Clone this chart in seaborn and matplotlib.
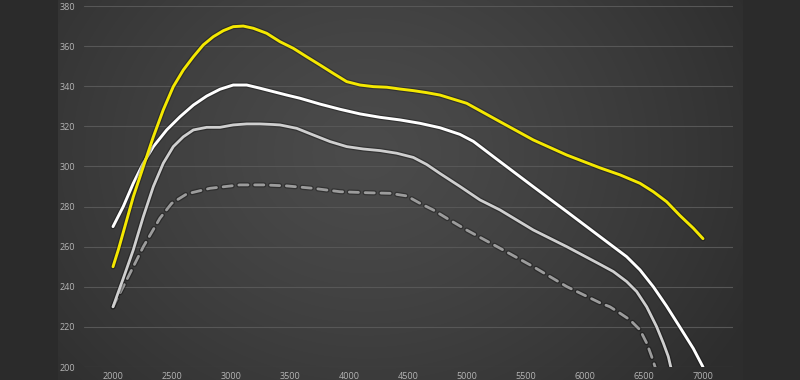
import numpy as np
import pandas as pd
import matplotlib
matplotlib.use("Agg")
import matplotlib.pyplot as plt
import matplotlib.patheffects as pe
import seaborn as sns

# ---- data (rpm, value) ----
rpm_yellow = [2000, 2045, 2172, 2257, 2342, 2426, 2511, 2596, 2681, 2765, 2850,
              2935, 3019, 3104, 3189, 3302, 3415, 3528, 3641, 3754, 3867, 3980,
              4093, 4206, 4320, 4432, 4545, 4658, 4771, 4997, 5280, 5562, 5845,
              6127, 6297, 6466, 6579, 6692, 6805, 6918, 7000]
yellow = [250, 258.4, 284.9, 299.9, 314.8, 328.2, 339.8, 348.1, 354.7, 360.6, 364.7,
          367.7, 369.7, 370, 368.9, 366.4, 362.2, 358.9, 354.7, 350.6, 346.4, 342.3,
          340.6, 339.8, 339.5, 338.6, 337.8, 336.8, 335.6, 331.5, 322.3, 313.2, 305.7,
          299.3, 295.8, 291.6, 287.4, 282.4, 275.5, 269.2, 264]

rpm_white = [2000, 2087, 2172, 2257, 2342, 2455, 2568, 2681, 2794, 2907, 3019,
             3133, 3246, 3359, 3472, 3585, 3754, 3924, 4093, 4263, 4432, 4602,
             4771, 4940, 5054, 5280, 5562, 5845, 6127, 6240, 6353, 6466, 6579,
             6692, 6805, 6918, 7000]
white = [270, 280, 291.6, 301.6, 309.9, 318.2, 324.8, 330.6, 335.1, 338.5, 340.6,
         340.6, 339, 337.3, 335.6, 334, 331.1, 328.5, 326.2, 324.5, 323.2, 321.5,
         319.3, 316, 312.5, 302.4, 289.9, 277.5, 265, 260, 255, 248.4, 240,
         230.3, 219.8, 209.2, 200]

rpm_gray = [2000, 2086, 2172, 2257, 2342, 2426, 2511, 2596, 2681, 2794, 2907,
            3019, 3133, 3246, 3359, 3415, 3557, 3697, 3839, 3980, 4121, 4263,
            4404, 4545, 4658, 4771, 4941, 5110, 5280, 5562, 5845, 6127, 6240,
            6353, 6438, 6523, 6607, 6664, 6706, 6726, 6750]
gray = [230, 244, 258.4, 275, 290, 301.6, 309.9, 314.8, 318.2, 319.5, 319.5,
        320.7, 321.2, 321.2, 320.9, 320.7, 319, 315.7, 312.4, 309.9, 308.7, 307.9,
        306.6, 304.5, 301, 296.5, 290, 283.3, 278.3, 268.3, 260, 251.2, 247.6,
        242.6, 237.6, 230, 220.1, 211.9, 205.2, 200.2, 196]

rpm_dash = [2000, 2087, 2172, 2257, 2398, 2497, 2625, 2822, 3076, 3274, 3472,
            3697, 3924, 4150, 4347, 4489, 4602, 4714, 4828, 4997, 5280, 5562,
            5845, 6127, 6212, 6297, 6381, 6466, 6523, 6565, 6593, 6620]
dashed = [230, 240.1, 250, 260, 274.2, 281.6, 286.3, 289.1, 290.8, 290.8, 290.3,
          289.1, 287.4, 286.9, 286.6, 285.3, 281.6, 278.3, 274.2, 268.3, 259.2, 250,
          240.1, 232, 230, 226.8, 223.5, 218.5, 211.9, 205.2, 200.2, 195]

x_ticks = [2000, 2500, 3000, 3500, 4000, 4500, 5000, 5500, 6000, 6500, 7000]
y_ticks = [200, 220, 240, 260, 280, 300, 320, 340, 360, 380]

sns.set_theme(style="dark")
plt.rcParams['font.family'] = ['Open Sans', 'DejaVu Sans']

fig = plt.figure(figsize=(8, 3.8), dpi=100)
fig.patch.set_facecolor("#2b2b2b")

# background panel with radial gradient
bg = fig.add_axes([58 / 800, 0, (743 - 58) / 800, 1])
bg.set_axis_off()
h, w = 380, 685
yy, xx = np.mgrid[0:h, 0:w]
cx, cy = w * 0.45, h * 0.40
r = np.sqrt(((xx - cx) / (w * 0.62)) ** 2 + ((yy - cy) / (h * 0.95)) ** 2)
r = np.clip(r, 0, 1)
inner = np.array([0x4b, 0x4b, 0x4b]) / 255
outer = np.array([0x2e, 0x2e, 0x2e]) / 255
t = r[..., None] ** 1.3
img = inner[None, None, :] * (1 - t) + outer[None, None, :] * t
bg.imshow(img, aspect="auto", extent=[0, 1, 0, 1])
bg.set_xlim(0, 1)
bg.set_ylim(0, 1)

ax = fig.add_axes([83.5 / 800, 1 - 367 / 380, (732.5 - 83.5) / 800, (367 - 6) / 380])
ax.patch.set_alpha(0)

shadow = [pe.withStroke(linewidth=3.8, foreground=(0, 0, 0, 0.3))]

sns.lineplot(x=rpm_dash, y=dashed, ax=ax, color="#9c9c9c", linewidth=2.0,
             linestyle=(0, (3.3, 2.4)), path_effects=shadow, zorder=3,
             dash_capstyle="round")
sns.lineplot(x=rpm_gray, y=gray, ax=ax, color="#cfcfcf", linewidth=2.0,
             path_effects=shadow, zorder=4, solid_joinstyle="round")
sns.lineplot(x=rpm_white, y=white, ax=ax, color="#ffffff", linewidth=2.1,
             path_effects=shadow, zorder=5, solid_joinstyle="round")
sns.lineplot(x=rpm_yellow, y=yellow, ax=ax, color="#f4e800", linewidth=2.1,
             path_effects=shadow, zorder=6, solid_joinstyle="round")

ax.set_xlim(1750, 7250)
ax.set_ylim(200, 380)
ax.set_xticks(x_ticks)
ax.set_yticks(y_ticks)
ax.set_xticklabels([str(v) for v in x_ticks])
ax.set_yticklabels([str(v) for v in y_ticks])
ax.tick_params(axis="both", colors="#b5b5b5", labelsize=6.5, length=0)
ax.tick_params(axis="x", pad=3.5)
ax.tick_params(axis="y", pad=6)
ax.grid(axis="y", color="#575757", linewidth=0.8)
ax.grid(axis="x", visible=False)
for s in ax.spines.values():
    s.set_visible(False)
ax.set_xlabel("")
ax.set_ylabel("")

fig.savefig("out.png", dpi=100, facecolor=fig.get_facecolor())
